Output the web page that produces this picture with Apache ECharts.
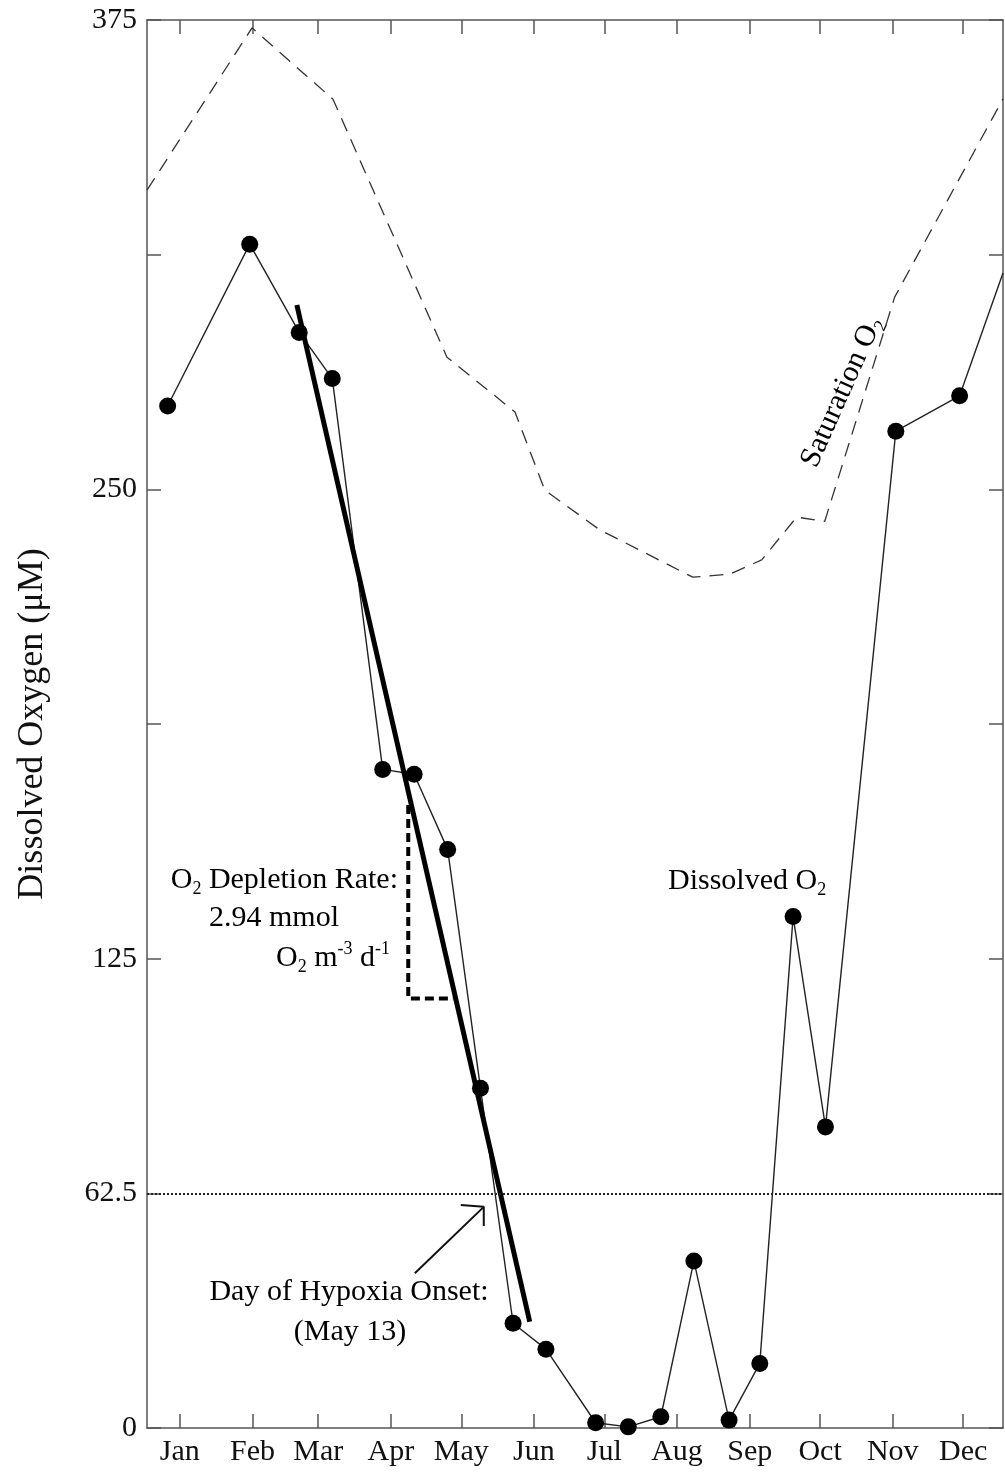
<!DOCTYPE html>
<html>
<head>
<meta charset="utf-8">
<script src="https://cdn.jsdelivr.net/npm/echarts@6/dist/echarts.min.js"></script>
<style>
  html, body { margin: 0; padding: 0; background: #fff; }
  #chart { width: 1005px; height: 1473px; }
</style>
</head>
<body>
<div id="chart"></div>
<script>
// Month labels sit on the 15th of each month (day of year, 0-based)
const MONTHS = ['Jan', 'Feb', 'Mar', 'Apr', 'May', 'Jun', 'Jul', 'Aug', 'Sep', 'Oct', 'Nov', 'Dec'];
const MONTH_TICK_DAYS = [14, 45, 73, 104, 134, 165, 195, 226, 257, 287, 318, 348];
const Y_LABELS = [0, 62.5, 125, 250, 375];

// Measured dissolved oxygen (µM) by day of year
const DO_DAYS = [8.8, 43.8, 64.9, 79.0, 100.5, 113.9, 128.2, 142.2, 156.1, 170.1,
                 191.3, 205.2, 219.1, 233.2, 248.2, 261.3, 275.5, 289.3, 319.3, 346.5];
const DO_VALUES = [272.2, 315.3, 291.8, 279.5, 175.4, 174.1, 154.1, 90.5, 27.9, 21.0,
                   1.4, 0.3, 3.0, 44.5, 2.1, 17.2, 136.2, 80.2, 265.5, 274.9];
// Line continues to the next sample past the year end
const DO_YEAR_END = [365, 307.6];

// Oxygen saturation concentration (µM)
const SAT_DAYS = [0, 44.8, 79.3, 127.9, 156.9, 169.6, 193.1, 210.1, 232.7, 248.5,
                  262.1, 277.0, 289.0, 318.8, 365];
const SAT_VALUES = [329.7, 372.9, 353.9, 285.2, 270.6, 249.8, 239.2, 233.8, 226.6, 227.4,
                    231.2, 242.6, 241.5, 301.2, 354.0];

// Linear fit of the spring drawdown
const FIT_DAYS = [63.9, 163.2];
const FIT_VALUES = [299.1, 28.3];

// Hypoxia threshold
const HYPOXIA_THRESHOLD = 62.5;

// Rise/run bracket illustrating the depletion rate
const RATE_DAYS = [111.4, 111.4, 130.6];
const RATE_VALUES = [165.9, 114.4, 114.4];

// Arrow pointing at the threshold crossing (tail, head, wing, head, wing)
const ARROW_DAYS = [114.2, 143.6, 133.8, 143.6, 143.6];
const ARROW_VALUES = [41.2, 58.9, 59.4, 58.9, 53.8];

const zip = (xs, ys) => xs.map((x, i) => [x, ys[i]]);

const FONT = 'Liberation Serif';
const INK = '#111';
const AXIS = '#555';

const chart = echarts.init(document.getElementById('chart'), null, { renderer: 'canvas' });

const baseX = {
  type: 'value', min: 0, max: 365,
  splitLine: { show: false },
  axisLine: { show: true, onZero: false, lineStyle: { color: AXIS, width: 1.5 } },
  axisTick: { show: true, inside: true, length: 14, customValues: MONTH_TICK_DAYS,
              lineStyle: { color: AXIS, width: 1.5 } }
};
const baseY = {
  type: 'value', min: 0, max: 375, interval: 62.5,
  splitLine: { show: false },
  axisLine: { show: true, onZero: false, lineStyle: { color: AXIS, width: 1.5 } },
  axisTick: { show: true, inside: true, length: 14, lineStyle: { color: AXIS, width: 1.5 } }
};

const doPoints = zip(DO_DAYS, DO_VALUES).map(p => ({ value: p }));
doPoints.push({ value: DO_YEAR_END, symbol: 'none' });

const sub = { fontSize: 18, fontFamily: FONT, color: INK, verticalAlign: 'bottom', lineHeight: 12 };
const sup = { fontSize: 18, fontFamily: FONT, color: INK, verticalAlign: 'top', lineHeight: 28 };
const main = { fontSize: 30, fontFamily: FONT, color: INK, lineHeight: 36 };
const richText = (text, x, y, align, extra) => Object.assign({
  type: 'text', x: x, y: y, z: 100,
  style: { text: text, rich: { a: main, s: sub, p: sup }, align: align, verticalAlign: 'middle' }
}, extra || {});

chart.setOption({
  animation: false,
  backgroundColor: '#fff',
  grid: { left: 147, right: 2, top: 20, bottom: 45, containLabel: false },
  xAxis: [
    Object.assign({}, baseX, {
      position: 'bottom',
      axisLabel: {
        show: true, customValues: MONTH_TICK_DAYS, margin: 9,
        fontFamily: FONT, fontSize: 30, color: INK,
        formatter: v => MONTHS[MONTH_TICK_DAYS.indexOf(v)] || ''
      }
    }),
    Object.assign({}, baseX, { position: 'top', axisLabel: { show: false } })
  ],
  yAxis: [
    Object.assign({}, baseY, {
      position: 'left',
      name: 'Dissolved Oxygen (\u03BCM)',
      nameLocation: 'middle', nameGap: 96, nameRotate: 90,
      nameTextStyle: { fontFamily: FONT, fontSize: 36, color: INK },
      axisLabel: {
        show: true, margin: 10, fontFamily: FONT, fontSize: 30, color: INK,
        formatter: v => (Y_LABELS.indexOf(v) >= 0 ? String(v) : '')
      }
    }),
    Object.assign({}, baseY, { position: 'right', axisLabel: { show: false } })
  ],
  series: [
    {
      name: 'Saturation O2', type: 'line', data: zip(SAT_DAYS, SAT_VALUES),
      symbol: 'none', smooth: false, clip: true,
      lineStyle: { color: '#333', width: 1.3, type: [14, 9] },
      z: 2
    },
    {
      name: 'Dissolved O2', type: 'line', data: doPoints,
      symbol: 'circle', symbolSize: 17, clip: true,
      itemStyle: { color: '#000' },
      lineStyle: { color: '#222', width: 1.4 },
      markLine: {
        silent: true, symbol: ['none', 'none'], label: { show: false },
        lineStyle: { color: '#222', width: 2, type: [2, 2] },
        data: [{ yAxis: HYPOXIA_THRESHOLD }]
      },
      z: 3
    },
    {
      name: 'Fit', type: 'line', data: zip(FIT_DAYS, FIT_VALUES),
      symbol: 'none', lineStyle: { color: '#000', width: 5 }, z: 4
    },
    {
      name: 'Rate bracket', type: 'line', data: zip(RATE_DAYS, RATE_VALUES),
      symbol: 'none', lineStyle: { color: '#000', width: 4, type: [9, 5] }, z: 4
    },
    {
      name: 'Onset arrow', type: 'line', data: zip(ARROW_DAYS, ARROW_VALUES),
      symbol: 'none', lineStyle: { color: '#111', width: 2 }, z: 4
    }
  ],
  graphic: [
    richText('{a|O}{s|2}{a| Depletion Rate:}', 398, 880, 'right'),
    richText('{a|2.94 mmol}', 274, 918, 'center'),
    richText('{a|O}{s|2}{a| m}{p|-3}{a| d}{p|-1}', 390, 958, 'right'),
    richText('{a|Dissolved O}{s|2}', 668, 881, 'left'),
    richText('{a|Day of Hypoxia Onset:}', 349, 1292, 'center'),
    richText('{a|(May 13)}', 350, 1332, 'center'),
    richText('{a|Saturation O}{s|2}', 842, 392, 'center', { rotation: 66 * Math.PI / 180 })
  ]
});
</script>
</body>
</html>
